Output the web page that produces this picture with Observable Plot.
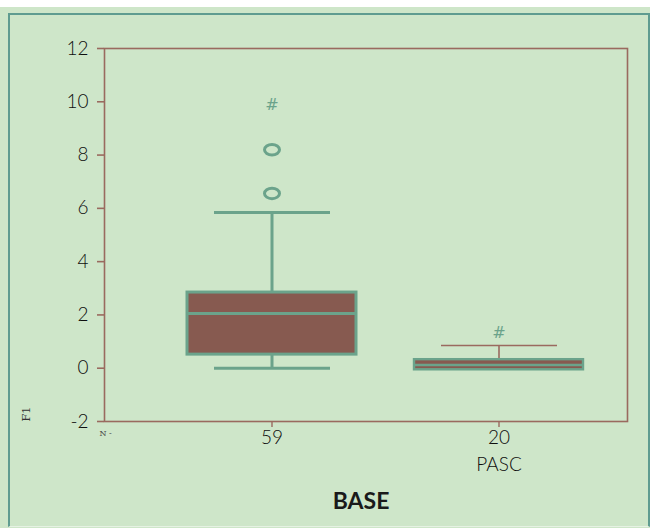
<!DOCTYPE html>
<html>
<head>
<meta charset="utf-8">
<script src="https://cdn.jsdelivr.net/npm/d3@7"></script>
<script src="https://cdn.jsdelivr.net/npm/@observablehq/plot@0.6"></script>
<style>
  html, body { margin: 0; padding: 0; width: 650px; height: 528px; overflow: hidden; background: #cee6c9; }
  #topband { position: absolute; left: 0; top: 0; width: 650px; height: 7px; background: #ffffff; }
  #border { position: absolute; left: 8px; top: 13px; width: 642px; height: 514px; box-sizing: border-box;
            border-top: 2.5px solid #5f9c90; border-left: 2.5px solid #5f9c90; border-right: 2.5px solid #5f9c90;
            border-bottom: 1px solid #e6f2e3; }
  #chart { position: absolute; left: 0; top: 0; }
</style>
</head>
<body>
<div id="topband"></div>
<div id="border"></div>
<div id="chart"></div>
<script>
// Data
const groups   = ["59", "20"];          // N per group (tick labels)
const groupSub = ["", "PASC"];          // second line under tick label
const q1       = [0.51, -0.06];
const median   = [2.05, 0.12];
const q3       = [2.84, 0.32];
const whiskLo  = [0.0, -0.06];
const whiskHi  = [5.84, 0.85];
const outliers = [{g: "59", v: 8.2}, {g: "59", v: 6.56}];
const extremes = [{g: "59", v: 9.9}, {g: "20", v: 1.34}];
const yTicks   = [-2, 0, 2, 4, 6, 8, 10, 12];
const xTitle   = "BASE";
const yTitle   = "F1";
const nLabel   = "N -";

const boxes = groups.map((g, i) => ({g, sub: groupSub[i], q1: q1[i], med: median[i], q3: q3[i], lo: whiskLo[i], hi: whiskHi[i]}));

const teal = "#6ba38b";
const brown = "#875a50";
const frameBrown = "#9a6a5f";
const textColor = "#0e0e0e";
const font = "Lato, 'Open Sans', sans-serif";

// ellipse symbol for outliers
const ellipse = {
  draw(ctx, size) {
    const rx = 7.5, ry = 5.2, k = 0.5523;
    ctx.moveTo(rx, 0);
    ctx.bezierCurveTo(rx, ry * k, rx * k, ry, 0, ry);
    ctx.bezierCurveTo(-rx * k, ry, -rx, ry * k, -rx, 0);
    ctx.bezierCurveTo(-rx, -ry * k, -rx * k, -ry, 0, -ry);
    ctx.bezierCurveTo(rx * k, -ry, rx, -ry * k, rx, 0);
    ctx.closePath();
  }
};

const first = boxes.filter((d, i) => i === 0);
const second = boxes.filter((d, i) => i === 1);

const chart = Plot.plot({
  width: 650,
  height: 528,
  marginLeft: 104,
  marginRight: 23,
  marginTop: 48,
  marginBottom: 107,
  style: {background: "transparent", fontFamily: font, overflow: "visible"},
  x: {type: "band", domain: groups, range: [186, 584], paddingInner: 0.254, paddingOuter: 0, label: null},
  y: {domain: [-2, 12], label: null},
  marks: [
    Plot.frame({stroke: frameBrown, strokeWidth: 1.6}),
    Plot.axisY({ticks: yTicks, tickFormat: d => String(d), tickSize: 7, tickPadding: 9, stroke: frameBrown, strokeWidth: 1.6, fontSize: 19, fontWeight: 300, fill: textColor, label: null}),
    Plot.axisX({tickSize: 6, tickPadding: 3, stroke: frameBrown, strokeWidth: 1.4, fontSize: 19, fontWeight: 300, fill: textColor, label: null}),
    // whiskers: group 1 teal thick
    Plot.ruleX(first, {x: "g", y1: "q3", y2: "hi", stroke: teal, strokeWidth: 3}),
    Plot.ruleX(first, {x: "g", y1: "lo", y2: "q1", stroke: teal, strokeWidth: 3}),
    Plot.tickY(first, {x: "g", y: "hi", stroke: teal, strokeWidth: 3, insetLeft: 27, insetRight: 26}),
    Plot.tickY(first, {x: "g", y: "lo", stroke: teal, strokeWidth: 3, insetLeft: 27, insetRight: 26}),
    // whiskers: group 2 brown thin
    Plot.ruleX(second, {x: "g", y1: "q3", y2: "hi", stroke: frameBrown, strokeWidth: 1.6}),
    Plot.tickY(second, {x: "g", y: "hi", stroke: frameBrown, strokeWidth: 1.6, insetLeft: 27, insetRight: 26}),
    // boxes
    Plot.barY(first, {x: "g", y1: "q1", y2: "q3", fill: brown, stroke: teal, strokeWidth: 3}),
    Plot.tickY(first, {x: "g", y: "med", stroke: teal, strokeWidth: 3}),
    Plot.barY(second, {x: "g", y1: "q1", y2: "q3", fill: brown, stroke: teal, strokeWidth: 2.4}),
    Plot.tickY(second, {x: "g", y: "med", stroke: teal, strokeWidth: 2.4}),
    // outliers
    Plot.dot(outliers, {x: "g", y: "v", symbol: ellipse, stroke: teal, strokeWidth: 3, fill: "none"}),
    Plot.text(extremes, {x: "g", y: "v", text: () => "#", fill: teal, fontSize: 16, fontStyle: "italic", fontFamily: "'DejaVu Sans', sans-serif"}),
    // sub label under tick
    Plot.text(second, {x: "g", text: "sub", frameAnchor: "bottom", dy: 49, fontSize: 19, fontWeight: 300, fill: textColor}),
    // axis title and side labels
    Plot.text([xTitle], {frameAnchor: "bottom", dx: -5, dy: 87, text: d => d, fontSize: 23, fontWeight: "bold", fill: "#1a1a1a"}),
    Plot.text([yTitle], {frameAnchor: "bottom-left", dx: -75, dy: 0, rotate: -90, text: d => d, fontSize: 11, fontFamily: "'DejaVu Serif', serif", fill: "#333"}),
    Plot.text([nLabel], {frameAnchor: "bottom-left", dx: -5, dy: 14, text: d => d, fontSize: 8, fontFamily: "'DejaVu Serif', serif", fill: "#444"})
  ]
});
document.getElementById("chart").appendChild(chart);
</script>
</body>
</html>
